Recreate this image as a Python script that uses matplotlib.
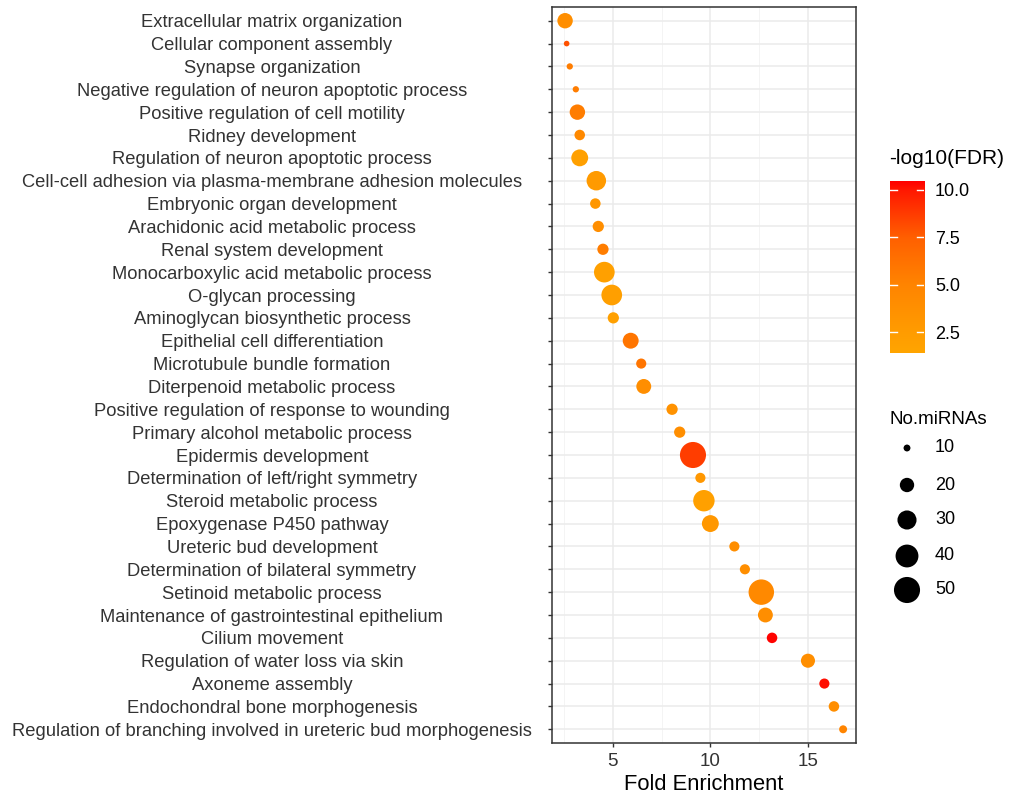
import matplotlib
matplotlib.use("Agg")
import matplotlib.pyplot as plt
import numpy as np
from matplotlib.colors import LinearSegmentedColormap, Normalize

plt.rcParams['font.family'] = ['Liberation Sans', 'DejaVu Sans']

terms = [
    "Extracellular matrix organization",
    "Cellular component assembly",
    "Synapse organization",
    "Negative regulation of neuron apoptotic process",
    "Positive regulation of cell motility",
    "Ridney development",
    "Regulation of neuron apoptotic process",
    "Cell-cell adhesion via plasma-membrane adhesion molecules",
    "Embryonic organ development",
    "Arachidonic acid metabolic process",
    "Renal system development",
    "Monocarboxylic acid metabolic process",
    "O-glycan processing",
    "Aminoglycan biosynthetic process",
    "Epithelial cell differentiation",
    "Microtubule bundle formation",
    "Diterpenoid metabolic process",
    "Positive regulation of response to wounding",
    "Primary alcohol metabolic process",
    "Epidermis development",
    "Determination of left/right symmetry",
    "Steroid metabolic process",
    "Epoxygenase P450 pathway",
    "Ureteric bud development",
    "Determination of bilateral symmetry",
    "Setinoid metabolic process",
    "Maintenance of gastrointestinal epithelium",
    "Cilium movement",
    "Regulation of water loss via skin",
    "Axoneme assembly",
    "Endochondral bone morphogenesis",
    "Regulation of branching involved in ureteric bud morphogenesis",
]

fold_enrichment = [2.56, 2.64, 2.80, 3.11, 3.19, 3.31, 3.31, 4.16, 4.11, 4.26, 4.50,
                   4.57, 4.95, 5.03, 5.92, 6.46, 6.59, 8.04, 8.43, 9.11, 9.49, 9.67,
                   10.0, 11.23, 11.77, 12.61, 12.82, 13.16, 15.0, 15.84, 16.33, 16.8]

no_mirnas = [22, 9, 9.5, 9.5, 22, 14, 25, 31, 14, 15, 15,
             34, 34, 15, 23, 13.5, 21, 15, 15, 50, 13.5, 36,
             25, 13.5, 13.5, 48, 21, 14, 19.5, 13.5, 14, 11]

neg_log10_fdr = [4.0, 8.0, 5.5, 5.5, 5.5, 4.5, 2.0, 2.7, 3.0, 4.0, 5.5,
                 2.0, 2.2, 2.0, 6.0, 6.0, 4.0, 3.5, 4.0, 8.7, 3.0, 2.0,
                 3.0, 4.0, 4.0, 4.5, 4.0, 10.4, 4.0, 10.2, 4.0, 5.0]

size_breaks = [10, 20, 30, 40, 50]
color_ticks = [2.5, 5.0, 7.5, 10.0]

def size_of(n):
    n = np.asarray(n, dtype=float)
    return 8.2 * (n - 7.0)

cmap = LinearSegmentedColormap.from_list(
    "ora", [(0.0, "#FFA500"), (0.12, "#FF9C00"), (0.40, "#FF8400"),
            (0.67, "#FF6000"), (0.95, "#FF1800"), (1.0, "#FF0000")])
norm = Normalize(vmin=1.4, vmax=10.45)

fig = plt.figure(figsize=(10.13, 7.98), dpi=100)
ax = fig.add_axes([552/1013, 55/798, (856-552)/1013, (743-7)/798])

ypos = np.arange(len(terms))
ax.scatter(fold_enrichment, ypos, s=size_of(no_mirnas), c=neg_log10_fdr,
           cmap=cmap, norm=norm, edgecolors='none', zorder=3)

ax.set_xlim(1.89, 17.46)
ax.set_ylim(len(terms) - 0.4, -0.6)
ax.set_xticks([5, 10, 15])
ax.set_xticks([2.5, 7.5, 12.5], minor=True)
ax.set_yticks(ypos)
ax.set_yticklabels(terms)
ax.grid(True, which='major', color='#EBEBEB', linewidth=1.1, zorder=0)
ax.grid(True, which='minor', axis='x', color='#F2F2F2', linewidth=0.6, zorder=0)
ax.set_axisbelow(True)
for sp in ax.spines.values():
    sp.set_color('#333333')
    sp.set_linewidth(1.1)
ax.tick_params(axis='x', which='minor', length=0)
ax.tick_params(axis='both', which='major', length=3, color='#333333', width=1,
               labelcolor='#333333')
ax.tick_params(axis='y', labelsize=13.2)
pad_pts = (552 - 272) * 0.72 - 3
ax.tick_params(axis='y', pad=pad_pts)
for lab in ax.get_yticklabels():
    lab.set_ha('center')
ax.tick_params(axis='x', pad=4, labelsize=13.5)
ax.set_xlabel("Fold Enrichment", fontsize=15.8, color='black', labelpad=3)

# colorbar legend
fig.text(889/1013, 1 - 158/798, "-log10(FDR)", fontsize=15, va='center', ha='left', color='black')
cax = fig.add_axes([890/1013, 1 - 353/798, 34/1013, (353-181)/798])
grad = np.linspace(1.4, 10.45, 256).reshape(-1, 1)
cax.imshow(grad, aspect='auto', cmap=cmap, norm=norm, origin='lower',
           extent=[0, 1, 1.4, 10.45])
cax.set_xlim(0, 1)
cax.set_ylim(1.4, 10.45)
cax.set_xticks([])
cax.set_yticks(color_ticks)
cax.set_yticklabels([f"{t:.1f}" for t in color_ticks])
cax.yaxis.tick_right()
cax.tick_params(axis='y', length=0, labelsize=13, pad=8, labelcolor='black')
for t in color_ticks:
    cax.plot([0, 0.2], [t, t], color='white', lw=1)
    cax.plot([0.8, 1], [t, t], color='white', lw=1)
for sp in cax.spines.values():
    sp.set_visible(False)

# size legend
fig.text(889/1013, 1 - 420/798, "No.miRNAs", fontsize=13.5, va='center', ha='left', color='black')
sax = fig.add_axes([880/1013, 1 - 610/798, 120/1013, (610-430)/798])
sax.set_xlim(880, 1000)
sax.set_ylim(610, 430)
sax.axis('off')
leg_y = [448, 485, 520, 556, 590]
sax.scatter([907]*len(size_breaks), leg_y, s=size_of(size_breaks), c='black', edgecolors='none')
for yy, b in zip(leg_y, size_breaks):
    sax.text(935, yy, str(b), fontsize=13, va='center', ha='left', color='black')

fig.savefig("out.png", dpi=100)
